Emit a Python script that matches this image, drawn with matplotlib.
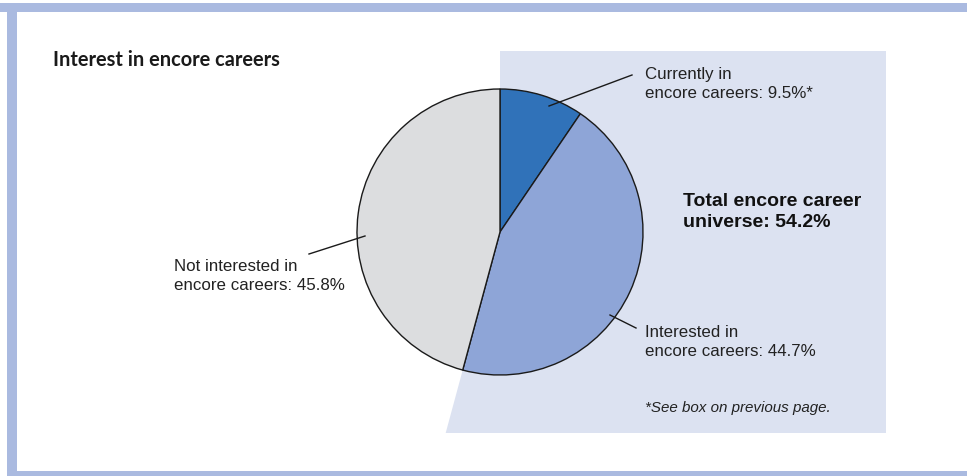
import numpy as np
import matplotlib.pyplot as plt
from matplotlib.patches import Polygon, Rectangle

# survey shares (percent), clockwise from 12 o'clock
categories = ["Currently in\nencore careers: 9.5%*",
              "Interested in\nencore careers: 44.7%",
              "Not interested in\nencore careers: 45.8%"]
shares = [9.5, 44.7, 45.8]
colors = ["#3072b9", "#8ea5d7", "#dcdddf"]
total_label = "Total encore career\nuniverse: 54.2%"
title = "Interest in encore careers"
note = "*See box on previous page."

W, H = 967, 477
fig = plt.figure(figsize=(W / 100, H / 100), dpi=100)
ax = fig.add_axes([0, 0, 1, 1])

def py(y):
    # pixel rows counted from the top
    return H - y

cx, cy, r = 500, py(233), 143

# frame strips
frame = "#aabae0"
ax.add_patch(Rectangle((7, 0), 10, py(13), color=frame, lw=0, zorder=0))
ax.add_patch(Rectangle((0, py(13)), W, 9, color=frame, lw=0, zorder=0))
ax.add_patch(Rectangle((7, 0), W, py(472), color=frame, lw=0, zorder=0))

# shaded wedge behind the "encore universe" part of the pie
end_ang = np.deg2rad(90 - 360 * (shares[0] + shares[1]) / 100)
bx = cx + (py(434) - cy) / np.sin(end_ang) * np.cos(end_ang)
shade = Polygon([(cx, py(52)), (886, py(52)), (886, py(434)), (bx, py(434)), (cx, cy)],
                closed=True, facecolor="#dce2f1", edgecolor="none", zorder=1)
ax.add_patch(shade)

wedges, _ = ax.pie(shares, colors=colors, startangle=90, counterclock=False,
                   center=(cx, cy), radius=r,
                   wedgeprops=dict(edgecolor="#1a1a1a", linewidth=1.0))
for w in wedges:
    w.set_zorder(3)

ax.set_xlim(0, W)
ax.set_ylim(0, H)
ax.set_aspect("equal")
ax.axis("off")

# leader lines and labels
lines = [((549, 107), (632, 76)), ((610, 316), (636, 329)), ((365, 237), (309, 255))]
label_pos = [(645, 84), (645, 342), (174, 276)]
for (a, b), (tx, ty), txt in zip(lines, label_pos, categories):
    ax.plot([a[0], b[0]], [py(a[1]), py(b[1])], color="#1a1a1a", lw=1.0, zorder=4)
    ax.text(tx, py(ty), txt, ha="left", va="center", fontsize=12.2,
            family="Liberation Sans", color="#222222", linespacing=1.27, zorder=5)

ax.text(683, py(212), total_label, ha="left", va="center", fontsize=14,
        family="Liberation Sans", fontweight="bold", color="#111111",
        linespacing=1.32, zorder=5)
ax.text(645, py(408), note, ha="left", va="center", fontsize=10.9,
        family="Liberation Sans", style="italic", color="#222222", zorder=5)
ax.text(53, py(60), title, ha="left", va="center", fontsize=14.4,
        family="Lato", fontweight="bold", color="#1a1a1a", zorder=5)

fig.savefig("out.png", dpi=100)
